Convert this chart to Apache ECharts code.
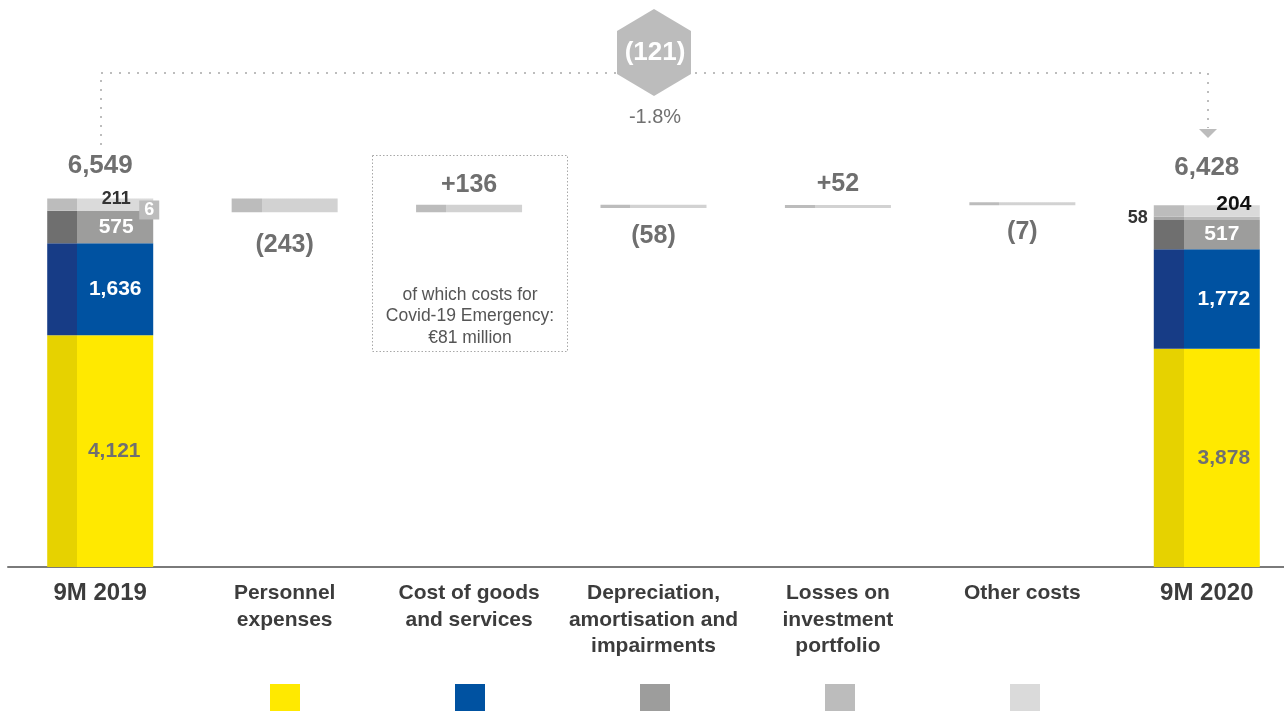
<!DOCTYPE html>
<html>
<head>
<meta charset="utf-8">
<title>Operating costs 9M 2019 - 9M 2020</title>
<script src="https://cdn.jsdelivr.net/npm/echarts@6/dist/echarts.min.js"></script>
<style>
  html, body { margin: 0; padding: 0; background: #fff; }
  #chart { width: 1284px; height: 711px; }
</style>
</head>
<body>
<div id="chart"></div>
<script>
  // data (€ million)
  var categories = ['9M 2019', 'Personnel\nexpenses', 'Cost of goods\nand services', 'Depreciation,\namortisation and\nimpairments', 'Losses on\ninvestment\nportfolio', 'Other costs', '9M 2020'];
  var costNames = ['Personnel expenses', 'Cost of goods and services', 'Depreciation, amortisation and impairments', 'Losses on investment portfolio', 'Other costs'];
  var costs2019 = [4121, 1636, 575, 6, 211];
  var costs2020 = [3878, 1772, 517, 58, 204];
  var deltas = [-243, 136, -58, 52, -7];
  var totals = [6549, 6428];

  var FONT = '"Liberation Sans", Arial, Helvetica, sans-serif';
  // [dark side, light face]
  var tones = [
    ['#e6d200', '#ffe900'],
    ['#173c86', '#0052a1'],
    ['#6f6f6f', '#9d9d9c'],
    ['#a6a6a6', '#bcbcbc'],
    ['#bcbcbc', '#dadada']
  ];
  var deltaTone = ['#bcbcbc', '#d2d2d2'];
  var split = 0.283;

  function twoTone(t) {
    return new echarts.graphic.LinearGradient(0, 0, 1, 0, [
      { offset: 0, color: t[0] }, { offset: split, color: t[0] },
      { offset: split, color: t[1] }, { offset: 1, color: t[1] }
    ]);
  }
  function fmt(v) { return v.toLocaleString('en-US'); }

  // label styles for the segments of the two stacked bars [2019, 2020]
  var bold = { fontFamily: FONT, fontWeight: 'bold' };
  function lab(o) { return Object.assign({ show: true }, bold, o); }
  var segLabels = [
    [lab({ position: 'inside', offset: [14, 0], color: '#707070', fontSize: 21 }),
     lab({ position: 'inside', offset: [17, 0], color: '#707070', fontSize: 21 })],
    [lab({ position: 'inside', offset: [15, 0], color: '#fff', fontSize: 21 }),
     lab({ position: 'inside', offset: [17, 0], color: '#fff', fontSize: 21 })],
    [lab({ position: 'inside', offset: [16, 0], color: '#fff', fontSize: 21 }),
     lab({ position: 'inside', offset: [15, 0], color: '#fff', fontSize: 21 })],
    [lab({ position: [92, -10], align: 'left', verticalAlign: 'top', color: '#fff', fontSize: 18,
           backgroundColor: '#bcbcbc', padding: [1, 5, 0, 5] }),
     lab({ position: 'left', distance: 6, color: '#333', fontSize: 18 })],
    [lab({ position: 'inside', offset: [16, -6], color: '#333', fontSize: 18 }),
     lab({ position: 'inside', offset: [27, -7], color: '#111', fontSize: 21 })]
  ];

  var series = [];
  costNames.forEach(function (name, i) {
    var data = categories.map(function () { return '-'; });
    data[0] = { value: costs2019[i], label: segLabels[i][0] };
    data[6] = { value: costs2020[i], label: segLabels[i][1] };
    series.push({
      name: name, type: 'bar', stack: 'total', barWidth: 106, barGap: '-100%',
      itemStyle: { color: twoTone(tones[i]) },
      label: { formatter: function (p) { return fmt(p.value); } },
      data: data
    });
  });

  // waterfall: invisible base + visible change
  var labelGap = [20, 7, 16, 8, 14];
  var running = totals[0];
  var baseData = ['-'], changeData = ['-'];
  deltas.forEach(function (d, k) {
    var up = d > 0;
    baseData.push(up ? running : running + d);
    changeData.push({
      value: Math.abs(d), delta: d,
      label: lab({ position: up ? 'top' : 'bottom', distance: labelGap[k], color: '#6f6f6f', fontSize: 25 })
    });
    running += d;
  });
  baseData.push('-'); changeData.push('-');
  series.push({
    name: 'base', type: 'bar', stack: 'wf', barWidth: 106, barGap: '-100%', silent: true,
    itemStyle: { color: 'rgba(0,0,0,0)' }, data: baseData
  });
  series.push({
    name: 'change', type: 'bar', stack: 'wf', barWidth: 106, barGap: '-100%', barMinHeight: 3,
    itemStyle: { color: twoTone(deltaTone) },
    label: {
      formatter: function (p) {
        var d = p.data.delta;
        return d < 0 ? '(' + fmt(-d) + ')' : '+' + fmt(d);
      }
    },
    data: changeData
  });

  // totals on top of the two stacks
  var totalData = categories.map(function () { return '-'; });
  totalData[0] = { value: totals[0], label: lab({ position: 'top', distance: 20, color: '#6f6f6f', fontSize: 26 }) };
  totalData[6] = { value: totals[1], label: lab({ position: 'top', distance: 25, color: '#6f6f6f', fontSize: 26 }) };
  series.push({
    name: 'total', type: 'bar', stack: 'sum', barWidth: 106, barGap: '-100%', silent: true, z: 1,
    itemStyle: { color: 'rgba(0,0,0,0)' },
    label: { formatter: function (p) { return fmt(p.value); } },
    data: totalData
  });

  var diff = totals[1] - totals[0];
  var pct = (diff / totals[0] * 100).toFixed(1) + '%';

  var chart = echarts.init(document.getElementById('chart'));
  chart.setOption({
    animation: false,
    grid: { left: 8, width: 1291, top: 117, bottom: 144, containLabel: false, outerBoundsMode: 'none' },
    xAxis: {
      type: 'category', data: categories,
      axisTick: { show: false },
      axisLine: { lineStyle: { color: '#7a7a7a', width: 2 } },
      axisLabel: {
        interval: 0, margin: 13, color: '#3c3c3c', fontFamily: FONT, fontWeight: 'bold',
        fontSize: 21, lineHeight: 26.5,
        formatter: function (v, i) { return (i === 0 || i === 6) ? '{big|' + v + '}' : v; },
        rich: { big: { fontFamily: FONT, fontWeight: 'bold', fontSize: 24, color: '#3c3c3c', lineHeight: 26 } }
      }
    },
    yAxis: { type: 'value', min: 0, max: 8000, show: false },
    legend: {
      left: 270, top: 684, padding: 0, itemWidth: 30, itemHeight: 27, itemGap: 155, selectedMode: false,
      formatter: function () { return ''; },
      data: costNames.map(function (n, i) {
        return { name: n, icon: 'rect', itemStyle: { color: tones[i][1] } };
      })
    },
    graphic: [
      { type: 'polyline', silent: true,
        shape: { points: [[101, 145], [101, 73], [1208, 73], [1208, 128]] },
        style: { stroke: '#bdbdbd', lineWidth: 2, lineDash: [2, 7], fill: null } },
      { type: 'polygon', silent: true,
        shape: { points: [[1199, 129], [1217, 129], [1208, 138]] },
        style: { fill: '#bcbcbc' } },
      { type: 'polygon', silent: true,
        shape: { points: [[654, 9], [691, 31], [691, 74], [654, 96], [617, 74], [617, 31]] },
        style: { fill: '#bcbcbc' } },
      { type: 'text', silent: true, x: 655, y: 53,
        style: { text: '(' + fmt(-diff) + ')', fill: '#fff', font: 'bold 26px ' + FONT,
                 textAlign: 'center', textVerticalAlign: 'middle' } },
      { type: 'text', silent: true, x: 655, y: 117,
        style: { text: pct, fill: '#707070', font: '20px ' + FONT,
                 textAlign: 'center', textVerticalAlign: 'middle' } },
      { type: 'rect', silent: true,
        shape: { x: 372.5, y: 155.5, width: 195, height: 196 },
        style: { fill: null, stroke: '#a8a8a8', lineWidth: 1, lineDash: [1.5, 2] } },
      { type: 'text', silent: true, x: 470, y: 284,
        style: { text: 'of which costs for\nCovid-19 Emergency:\n€81 million', fill: '#555',
                 font: '17.5px ' + FONT, lineHeight: 21.5, textAlign: 'center' } }
    ],
    series: series
  });
</script>
</body>
</html>
